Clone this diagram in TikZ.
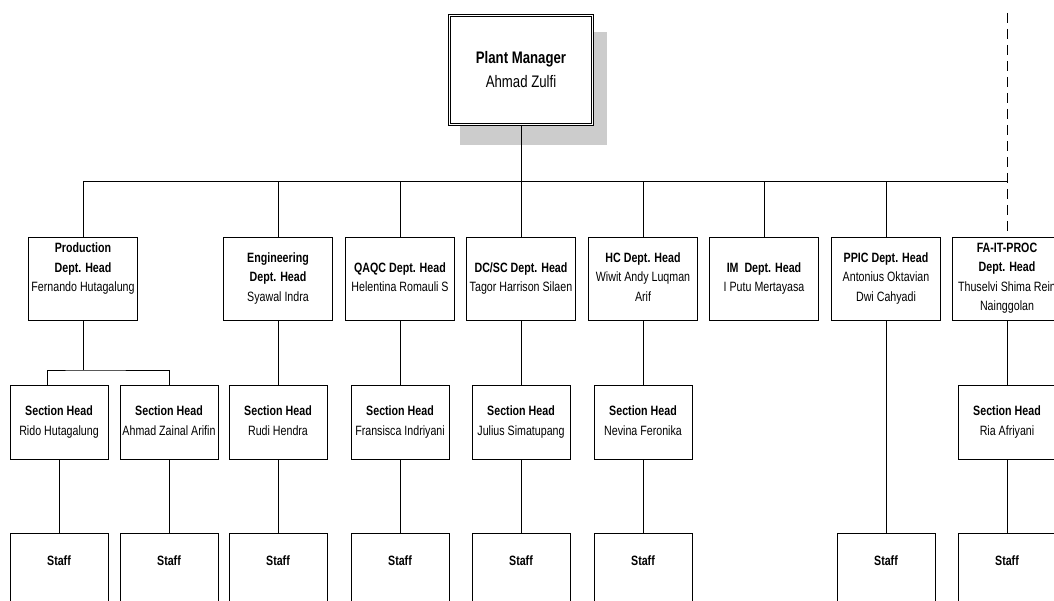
\documentclass[tikz,border=0pt]{standalone}
\usepackage{fontspec}
\setmainfont{Liberation Sans}[FakeStretch=0.79]
\usetikzlibrary{calc}

\tikzset{
  box/.style={draw, line width=0.9pt, fill=white, align=center, inner xsep=1pt, inner ysep=0pt,
    font=\fontsize{13.5}{19.5}\selectfont},
  depthead/.style={box, minimum width=109pt, minimum height=83pt, text depth=3pt},
  sechead/.style={box, minimum width=98pt, minimum height=74pt, text depth=3pt},
  staffbox/.style={box, minimum width=98pt, minimum height=80pt, text height=10pt, text depth=26pt},
  link/.style={line width=0.9pt},
}

\begin{document}
\begin{tikzpicture}[x=1pt,y=-1pt]
\useasboundingbox (0,0) rectangle (1054,601);

% Plant manager (shadow first)
\fill[black!20] (460,32) rectangle (607,145);
\node[box, double, double distance=1.5pt, minimum width=143pt, minimum height=109pt,
  font=\fontsize{16.7}{24}\selectfont] (pm) at (521,70) {\textbf{Plant Manager}\\Ahmad Zulfi};

% Dept. heads
\node[depthead] (dprod) at (83,278.5) {\textbf{Production}\\\textbf{Dept. Head}\\Fernando Hutagalung\\\mbox{}};
\node[depthead] (deng) at (278,278.5) {\textbf{Engineering}\\\textbf{Dept. Head}\\Syawal Indra};
\node[depthead] (dqaqc) at (400,278.5) {\textbf{QAQC Dept. Head}\\Helentina Romauli S};
\node[depthead] (ddcsc) at (521,278.5) {\textbf{DC/SC Dept. Head}\\Tagor Harrison Silaen};
\node[depthead] (dhc) at (643,278.5) {\textbf{HC Dept. Head}\\Wiwit Andy Luqman\\Arif};
\node[depthead] (dim) at (764,278.5) {\textbf{IM~ Dept. Head}\\I Putu Mertayasa};
\node[depthead] (dppic) at (886,278.5) {\textbf{PPIC Dept. Head}\\Antonius Oktavian\\Dwi Cahyadi};
\node[depthead] (dfa) at (1007,278.5) {\textbf{FA-IT-PROC}\\\textbf{Dept. Head}\\Thuselvi Shima Rein\\Nainggolan};

% Section heads
\node[sechead] (sprod1) at (59,422) {\textbf{Section Head}\\Rido Hutagalung};
\node[sechead] (sprod2) at (169,422) {\textbf{Section Head}\\Ahmad Zainal Arifin};
\node[sechead] (seng) at (278,422) {\textbf{Section Head}\\Rudi Hendra};
\node[sechead] (sqaqc) at (400,422) {\textbf{Section Head}\\Fransisca Indriyani};
\node[sechead] (sdcsc) at (521,422) {\textbf{Section Head}\\Julius Simatupang};
\node[sechead] (shc) at (643,422) {\textbf{Section Head}\\Nevina Feronika};
\node[sechead] (sfa) at (1007,422) {\textbf{Section Head}\\Ria Afriyani};

% Staff
\node[staffbox] (tprod1) at (59,573) {\textbf{Staff}};
\node[staffbox] (tprod2) at (169,573) {\textbf{Staff}};
\node[staffbox] (teng) at (278,573) {\textbf{Staff}};
\node[staffbox] (tqaqc) at (400,573) {\textbf{Staff}};
\node[staffbox] (tdcsc) at (521,573) {\textbf{Staff}};
\node[staffbox] (thc) at (643,573) {\textbf{Staff}};
\node[staffbox] (tppic) at (886,573) {\textbf{Staff}};
\node[staffbox] (tfa) at (1007,573) {\textbf{Staff}};

% Bus under plant manager
\coordinate (bus) at (521,181);
\coordinate (cut) at (1007,13);
\draw[link] (pm.south) -- (bus);
\draw[link] (dprod.north |- bus) -- (dfa.north |- bus);
\draw[link] (dprod.north) -- (dprod.north |- bus);
\draw[link] (deng.north) -- (deng.north |- bus);
\draw[link] (dqaqc.north) -- (dqaqc.north |- bus);
\draw[link] (ddcsc.north) -- (ddcsc.north |- bus);
\draw[link] (dhc.north) -- (dhc.north |- bus);
\draw[link] (dim.north) -- (dim.north |- bus);
\draw[link] (dppic.north) -- (dppic.north |- bus);
\draw[link, dash pattern=on 10pt off 6pt] (cut) -- (dfa.north);

% Production fork
\coordinate (fork) at (83,370);
\draw[link] (dprod.south) -- (fork);
\draw[link] ([xshift=-12pt]sprod1.north) |- (fork) -| (sprod2.north);

% Dept. to section
\draw[link] (deng.south) -- (seng.north);
\draw[link] (dqaqc.south) -- (sqaqc.north);
\draw[link] (ddcsc.south) -- (sdcsc.north);
\draw[link] (dhc.south) -- (shc.north);
\draw[link] (dfa.south) -- (sfa.north);
\draw[link] (dppic.south) -- (tppic.north);

% Section to staff
\draw[link] (sprod1.south) -- (tprod1.north);
\draw[link] (sprod2.south) -- (tprod2.north);
\draw[link] (seng.south) -- (teng.north);
\draw[link] (sqaqc.south) -- (tqaqc.north);
\draw[link] (sdcsc.south) -- (tdcsc.north);
\draw[link] (shc.south) -- (thc.north);
\draw[link] (sfa.south) -- (tfa.north);

\end{tikzpicture}
\end{document}
